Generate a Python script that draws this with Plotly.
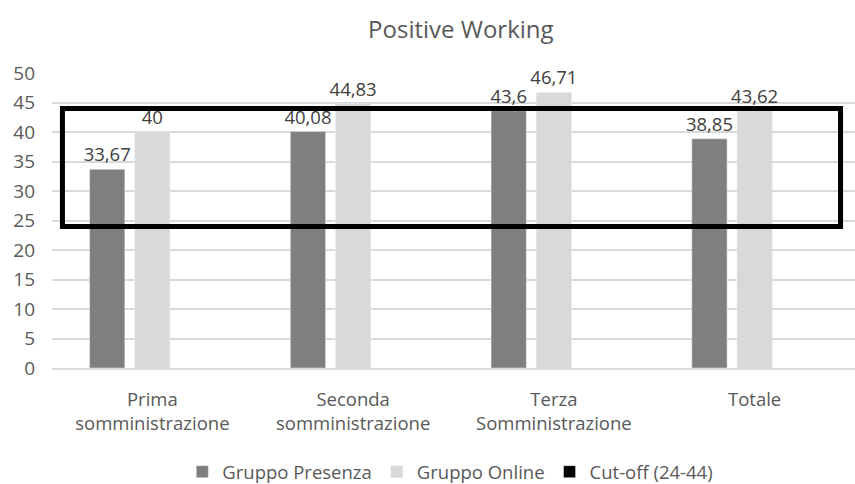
import plotly.graph_objects as go

categories = ["Prima<br>somministrazione", "Seconda<br>somministrazione",
              "Terza<br>Somministrazione", "Totale"]
presenza = [33.67, 40.08, 43.6, 38.85]
online = [40, 44.83, 46.71, 43.62]
cutoff_low = 24
cutoff_high = 44
y_ticks = [0, 5, 10, 15, 20, 25, 30, 35, 40, 45, 50]

FONT = "Open Sans"
TXT = "#595959"


def fmt(v):
    return f"{v:g}".replace(".", ",")


fig = go.Figure()
fig.add_trace(go.Bar(
    x=categories, y=presenza, name="Gruppo Presenza",
    marker_color="#7f7f7f",
    text=[fmt(v) for v in presenza], textposition="outside", constraintext="none",
    textfont=dict(size=18.5, color="#404040", family=FONT), cliponaxis=False,
))
fig.add_trace(go.Bar(
    x=categories, y=online, name="Gruppo Online",
    marker_color="#d9d9d9",
    text=[fmt(v) for v in online], textposition="outside", constraintext="none",
    textfont=dict(size=18.5, color="#404040", family=FONT), cliponaxis=False,
))
# cut-off series: legend entry only, the band is drawn as a rectangle
fig.add_trace(go.Bar(
    x=categories, y=[None] * len(categories), name=f"Cut-off ({cutoff_low}-{cutoff_high})",
    marker_color="#000000",
))

fig.add_shape(
    type="rect", xref="paper", yref="y",
    x0=0.013, x1=0.982, y0=cutoff_low, y1=cutoff_high,
    line=dict(color="black", width=5), fillcolor="rgba(0,0,0,0)", layer="above",
)

fig.update_layout(
    width=855, height=484,
    paper_bgcolor="white", plot_bgcolor="white",
    margin=dict(l=52, r=0, t=73, b=116, autoexpand=False),
    barmode="group", bargap=0.325, bargroupgap=0.22,
    title=dict(text="Positive Working", x=0.539, xanchor="center", y=0.938, yanchor="middle",
               font=dict(family=FONT, size=24, color=TXT)),
    font=dict(family=FONT, color=TXT),
    showlegend=True,
    legend=dict(orientation="h", x=0.496, xanchor="center", y=-0.353, yanchor="middle",
                font=dict(size=18.5, color=TXT, family=FONT), itemwidth=30,
                traceorder="normal"),
    xaxis=dict(showgrid=False, showline=True, linecolor="#d9d9d9", linewidth=1.5,
               ticks="", tickfont=dict(size=18.5, color=TXT, family=FONT),
               ticklabelstandoff=14, automargin=False),
    yaxis=dict(range=[0, 50], tickvals=y_ticks, showgrid=True, gridcolor="#d9d9d9",
               gridwidth=1.5, zeroline=False, showline=False, ticks="",
               tickfont=dict(size=19, color=TXT, family=FONT), ticklabelstandoff=16,
               automargin=False),
)

fig.write_html("out.html")
